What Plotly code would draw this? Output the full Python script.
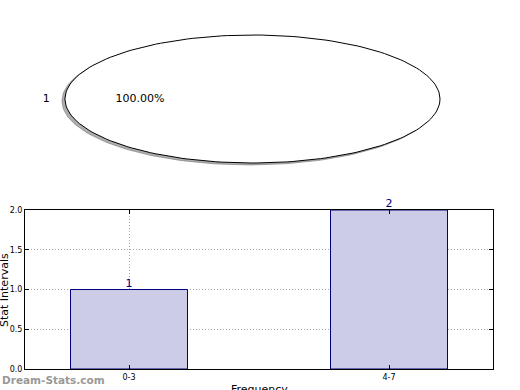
import numpy as np
import plotly.graph_objects as go

# ---- data ----
pie_labels = ["1"]
pie_values = [1]
bar_categories = ["0-3", "4-7"]
bar_values = [1, 2]

FONT = "DejaVu Sans"
fig = go.Figure()

# ---- pie (drawn as elliptical wedges, matplotlib-style stretched axes) ----
total = float(sum(pie_values))
start = 0.0
for lab, val in zip(pie_labels, pie_values):
    frac = val / total
    th = np.linspace(start, start + 2 * np.pi * frac, 200)
    xs = list(np.cos(th)); ys = list(np.sin(th))
    if frac < 1:
        xs = [0] + xs + [0]; ys = [0] + ys + [0]
    # shadow
    fig.add_trace(go.Scatter(x=[x - 0.016 for x in xs], y=[y - 0.03 for y in ys],
                             mode="lines", fill="toself", fillcolor="rgba(120,120,120,0.6)",
                             line=dict(color="rgba(120,120,120,0.6)", width=1),
                             xaxis="x2", yaxis="y2", hoverinfo="skip", showlegend=False))
    fig.add_trace(go.Scatter(x=xs, y=ys, mode="lines", fill="toself", fillcolor="white",
                             line=dict(color="black", width=1),
                             xaxis="x2", yaxis="y2", hoverinfo="skip", showlegend=False))
    mid = start + np.pi * frac
    fig.add_trace(go.Scatter(x=[1.1 * np.cos(mid), 0.6 * np.cos(mid)],
                             y=[1.1 * np.sin(mid), 0.6 * np.sin(mid)],
                             mode="text", text=[lab, f"{100*frac:.2f}%"],
                             textfont=dict(family=FONT, size=11, color="black"),
                             xaxis="x2", yaxis="y2", hoverinfo="skip", showlegend=False))
    start += 2 * np.pi * frac

# ---- bar chart ----
fig.add_trace(go.Bar(x=bar_categories, y=bar_values, width=0.45,
                     marker=dict(color="#ccccE6", line=dict(color="#000080", width=1)),
                     showlegend=False, hoverinfo="skip"))
fig.add_trace(go.Scatter(x=bar_categories, y=bar_values, mode="text",
                         text=[str(v) for v in bar_values], textposition="top center",
                         textfont=dict(family=FONT, size=11, color="#000080"),
                         cliponaxis=False, showlegend=False, hoverinfo="skip"))

W, H = 520, 390
grid = dict(showgrid=True, gridcolor="#a8a8a8", griddash="1px,2px", gridwidth=1)
fig.update_layout(
    width=W, height=H, margin=dict(l=0, r=0, t=0, b=0, autoexpand=False),
    paper_bgcolor="white", plot_bgcolor="white",
    font=dict(family=FONT, color="black"),
    xaxis=dict(domain=[25 / W, 493 / W], range=[-0.4, 1.4], type="category",
               showline=True, linecolor="black", linewidth=1, mirror="ticks",
               ticks="inside", ticklen=4, tickcolor="black",
               tickfont=dict(size=8), zeroline=False, automargin=False, **grid),
    yaxis=dict(domain=[(H - 369) / H, (H - 210) / H], range=[0, 2],
               tickvals=[0, 0.5, 1, 1.5, 2], ticktext=["0.0", "0.5", "1.0", "1.5", "2.0"],
               showline=True, linecolor="black", linewidth=1, mirror="ticks",
               ticks="inside", ticklen=4, tickcolor="black",
               tickfont=dict(size=8), zeroline=False, automargin=False, **grid),
    xaxis2=dict(domain=[0, 1], range=[-252.5 / 187.5, (W - 252.5) / 187.5], anchor="y2",
                visible=False),
    yaxis2=dict(domain=[0.5, 1], range=[-(195 - 99) / 64, 99 / 64], anchor="x2",
                visible=False),
)

fig.add_annotation(text="Stat Intervals", textangle=-90, xref="paper", yref="paper",
                   x=4 / W, y=(H - 290) / H, xanchor="center", yanchor="middle",
                   showarrow=False, font=dict(family=FONT, size=11, color="black"))
fig.add_annotation(text="Frequency", xref="paper", yref="paper",
                   x=259 / W, y=(H - 389) / H, xanchor="center", yanchor="middle",
                   showarrow=False, font=dict(family=FONT, size=11, color="black"))
fig.add_annotation(text="<b>Dream-Stats.com</b>", xref="paper", yref="paper",
                   x=0, y=(H - 380) / H, xanchor="left", yanchor="middle",
                   showarrow=False, font=dict(family=FONT, size=10.5, color="#999999"))

fig.write_html("out.html", config={"displayModeBar": False},
               post_script="document.body.style.margin='0';")
